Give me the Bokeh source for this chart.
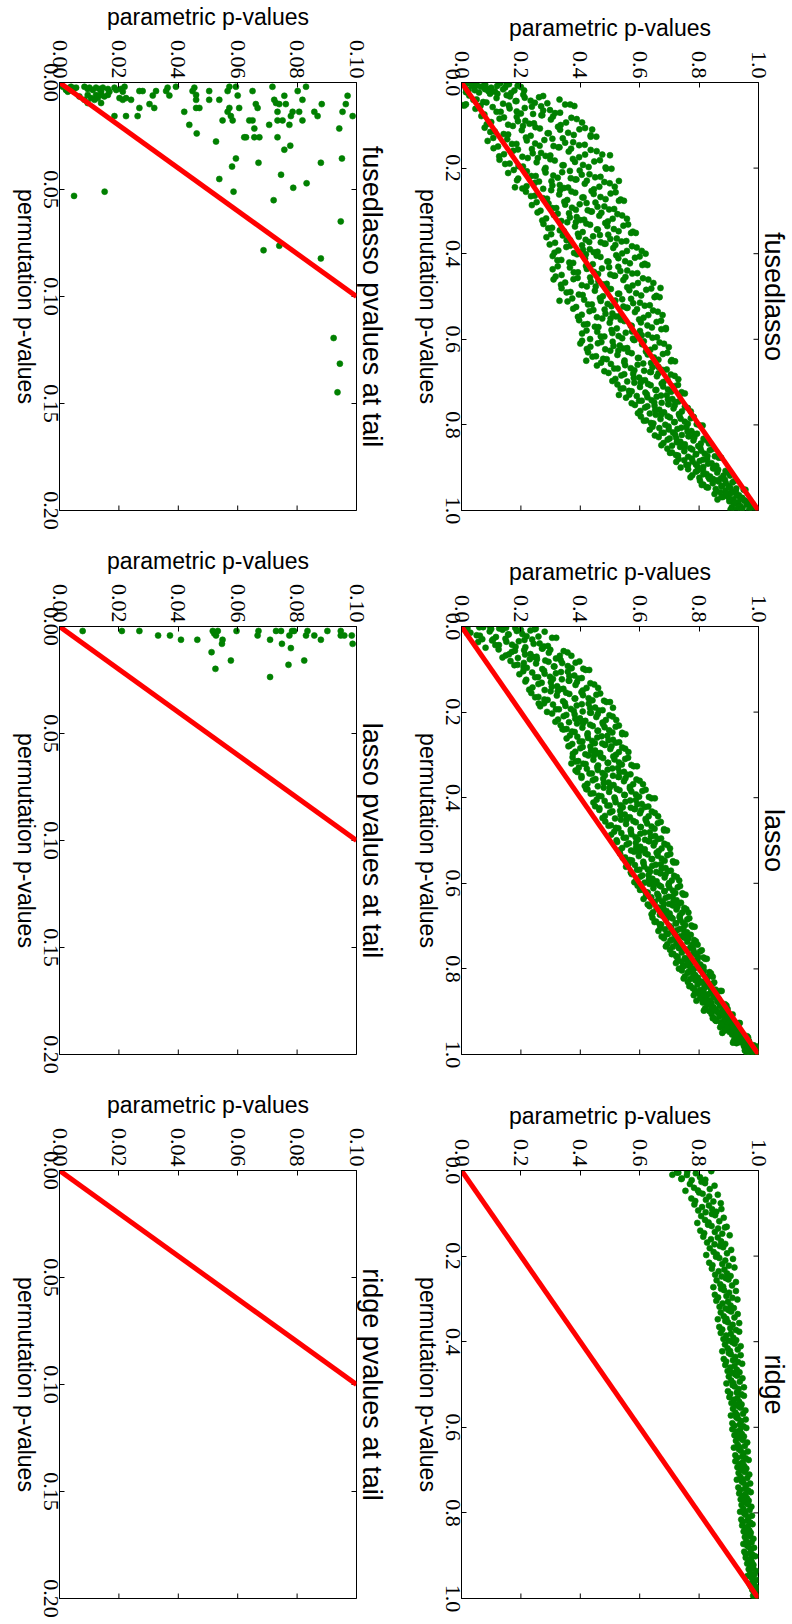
import math
from bokeh.plotting import figure
from bokeh.models import Range1d, FixedTicker, PrintfTickFormatter, GridBox
from bokeh.embed import file_html
from bokeh.resources import INLINE

# The reference is a 2x3 grid of scatter plots that was turned 90 degrees
# clockwise on the page; the grid is built upright and the page rotates it.

# ---------------- tick values ----------------
full_ticks = [0.0, 0.2, 0.4, 0.6, 0.8, 1.0]
tail_param_ticks = [0.00, 0.02, 0.04, 0.06, 0.08, 0.10]
tail_perm_ticks = [0.00, 0.05, 0.10, 0.15, 0.20]
identity_full = [0.0, 1.0]
identity_tail = [0.0, 0.1]

# ---------------- fusedlasso (full range) ----------------
fusedlasso_param = [
0.004,0.024,0.042,0.059,0.077,0.095,0.112,0.130,0.147,0.167,0.189,0.211,
0.026,0.051,0.073,0.096,0.118,0.140,0.163,0.185,0.208,0.233,0.261,0.289,
0.047,0.077,0.105,0.132,0.159,0.186,0.213,0.241,0.268,0.298,0.332,0.366,
0.067,0.100,0.128,0.157,0.186,0.215,0.244,0.272,0.301,0.334,0.370,0.406,
0.078,0.112,0.142,0.173,0.203,0.233,0.264,0.294,0.325,0.359,0.397,0.435,
0.088,0.123,0.154,0.185,0.217,0.248,0.279,0.310,0.341,0.376,0.415,0.454,
0.108,0.143,0.174,0.205,0.237,0.268,0.299,0.330,0.361,0.396,0.435,0.474,
0.128,0.162,0.192,0.223,0.253,0.283,0.314,0.344,0.375,0.409,0.447,0.485,
0.157,0.191,0.220,0.250,0.280,0.309,0.339,0.368,0.398,0.431,0.468,0.505,
0.187,0.219,0.247,0.275,0.303,0.331,0.359,0.387,0.415,0.446,0.481,0.516,
0.217,0.247,0.275,0.302,0.329,0.356,0.383,0.411,0.438,0.468,0.502,0.536,
0.237,0.266,0.293,0.319,0.346,0.372,0.398,0.425,0.451,0.481,0.514,0.547,
0.256,0.285,0.311,0.336,0.362,0.388,0.413,0.439,0.464,0.493,0.525,0.557,
0.276,0.305,0.331,0.356,0.382,0.408,0.433,0.459,0.484,0.513,0.545,0.577,
0.286,0.315,0.341,0.366,0.392,0.418,0.443,0.469,0.494,0.523,0.555,0.587,
0.297,0.326,0.353,0.379,0.406,0.432,0.458,0.485,0.511,0.541,0.574,0.607,
0.307,0.336,0.363,0.389,0.416,0.442,0.468,0.495,0.521,0.551,0.584,0.617,
0.307,0.337,0.365,0.392,0.419,0.446,0.473,0.501,0.528,0.558,0.592,0.626,
0.317,0.349,0.377,0.405,0.433,0.461,0.489,0.517,0.545,0.576,0.611,0.646,
0.337,0.367,0.395,0.422,0.449,0.476,0.503,0.531,0.558,0.588,0.622,0.656,
0.357,0.386,0.413,0.439,0.466,0.492,0.518,0.545,0.571,0.601,0.634,0.667,
0.376,0.405,0.431,0.456,0.482,0.508,0.533,0.559,0.584,0.613,0.645,0.677,
0.396,0.424,0.449,0.474,0.499,0.523,0.548,0.573,0.598,0.626,0.657,0.688,
0.406,0.433,0.457,0.481,0.505,0.529,0.553,0.577,0.601,0.628,0.658,0.688,
0.406,0.434,0.459,0.484,0.509,0.533,0.558,0.583,0.608,0.636,0.667,0.698,
0.426,0.453,0.477,0.501,0.525,0.549,0.573,0.597,0.621,0.648,0.678,0.708,
0.456,0.481,0.503,0.526,0.548,0.570,0.593,0.615,0.638,0.663,0.691,0.719,
0.495,0.518,0.538,0.558,0.578,0.598,0.618,0.638,0.658,0.680,0.705,0.730,
0.525,0.545,0.564,0.582,0.601,0.619,0.637,0.656,0.674,0.695,0.718,0.741,
0.554,0.573,0.590,0.607,0.624,0.640,0.657,0.674,0.691,0.710,0.731,0.752,
0.584,0.602,0.618,0.634,0.650,0.666,0.682,0.698,0.714,0.732,0.752,0.772,
0.604,0.622,0.638,0.654,0.670,0.686,0.702,0.718,0.734,0.752,0.772,0.792,
0.634,0.651,0.666,0.681,0.697,0.712,0.727,0.742,0.757,0.774,0.793,0.812,
0.664,0.680,0.694,0.709,0.723,0.737,0.752,0.766,0.781,0.797,0.815,0.833,
0.693,0.709,0.722,0.736,0.750,0.763,0.777,0.790,0.804,0.819,0.836,0.853,
0.723,0.738,0.750,0.763,0.776,0.789,0.802,0.814,0.827,0.842,0.858,0.874,
0.763,0.777,0.789,0.801,0.813,0.825,0.837,0.849,0.861,0.874,0.889,0.904,
0.803,0.814,0.825,0.835,0.846,0.856,0.866,0.877,0.887,0.899,0.912,0.925,
0.852,0.862,0.871,0.880,0.889,0.897,0.906,0.915,0.924,0.934,0.945,0.956,
0.902,0.910,0.917,0.924,0.932,0.939,0.946,0.953,0.960,0.968,0.977,0.986,
0.330,0.380,0.440,0.500,0.530,0.180,0.620,0.310,0.670,0.330,0.400,0.420,0.530,
0.003,0.010,0.020,0.035,0.050,0.065,0.080,0.100,0.015,0.045,0.090,0.120,0.140,0.160,0.005,0.015,0.010,
]
fusedlasso_perm = [
0.0035,0.0175,0.0095,0.0235,0.0055,0.0145,0.0205,0.0015,0.0115,0.0245,0.0075,0.0185,
0.0305,0.0395,0.0455,0.0265,0.0365,0.0495,0.0325,0.0435,0.0285,0.0425,0.0345,0.0485,
0.0615,0.0745,0.0575,0.0685,0.0535,0.0675,0.0595,0.0735,0.0555,0.0645,0.0705,0.0515,
0.0785,0.0925,0.0845,0.0985,0.0805,0.0895,0.0955,0.0765,0.0865,0.0995,0.0825,0.0935,
0.1055,0.1145,0.1205,0.1015,0.1115,0.1245,0.1075,0.1185,0.1035,0.1175,0.1095,0.1235,
0.1365,0.1495,0.1325,0.1435,0.1285,0.1425,0.1345,0.1485,0.1305,0.1395,0.1455,0.1265,
0.1535,0.1675,0.1595,0.1735,0.1555,0.1645,0.1705,0.1515,0.1615,0.1745,0.1575,0.1685,
0.1805,0.1895,0.1955,0.1765,0.1865,0.1995,0.1825,0.1935,0.1785,0.1925,0.1845,0.1985,
0.2115,0.2245,0.2075,0.2185,0.2035,0.2175,0.2095,0.2235,0.2055,0.2145,0.2205,0.2015,
0.2285,0.2425,0.2345,0.2485,0.2305,0.2395,0.2455,0.2265,0.2365,0.2495,0.2325,0.2435,
0.2555,0.2645,0.2705,0.2515,0.2615,0.2745,0.2575,0.2685,0.2535,0.2675,0.2595,0.2735,
0.2865,0.2995,0.2825,0.2935,0.2785,0.2925,0.2845,0.2985,0.2805,0.2895,0.2955,0.2765,
0.3035,0.3175,0.3095,0.3235,0.3055,0.3145,0.3205,0.3015,0.3115,0.3245,0.3075,0.3185,
0.3305,0.3395,0.3455,0.3265,0.3365,0.3495,0.3325,0.3435,0.3285,0.3425,0.3345,0.3485,
0.3615,0.3745,0.3575,0.3685,0.3535,0.3675,0.3595,0.3735,0.3555,0.3645,0.3705,0.3515,
0.3785,0.3925,0.3845,0.3985,0.3805,0.3895,0.3955,0.3765,0.3865,0.3995,0.3825,0.3935,
0.4055,0.4145,0.4205,0.4015,0.4115,0.4245,0.4075,0.4185,0.4035,0.4175,0.4095,0.4235,
0.4365,0.4495,0.4325,0.4435,0.4285,0.4425,0.4345,0.4485,0.4305,0.4395,0.4455,0.4265,
0.4535,0.4675,0.4595,0.4735,0.4555,0.4645,0.4705,0.4515,0.4615,0.4745,0.4575,0.4685,
0.4805,0.4895,0.4955,0.4765,0.4865,0.4995,0.4825,0.4935,0.4785,0.4925,0.4845,0.4985,
0.5115,0.5245,0.5075,0.5185,0.5035,0.5175,0.5095,0.5235,0.5055,0.5145,0.5205,0.5015,
0.5285,0.5425,0.5345,0.5485,0.5305,0.5395,0.5455,0.5265,0.5365,0.5495,0.5325,0.5435,
0.5555,0.5645,0.5705,0.5515,0.5615,0.5745,0.5575,0.5685,0.5535,0.5675,0.5595,0.5735,
0.5865,0.5995,0.5825,0.5935,0.5785,0.5925,0.5845,0.5985,0.5805,0.5895,0.5955,0.5765,
0.6035,0.6175,0.6095,0.6235,0.6055,0.6145,0.6205,0.6015,0.6115,0.6245,0.6075,0.6185,
0.6305,0.6395,0.6455,0.6265,0.6365,0.6495,0.6325,0.6435,0.6285,0.6425,0.6345,0.6485,
0.6615,0.6745,0.6575,0.6685,0.6535,0.6675,0.6595,0.6735,0.6555,0.6645,0.6705,0.6515,
0.6785,0.6925,0.6845,0.6985,0.6805,0.6895,0.6955,0.6765,0.6865,0.6995,0.6825,0.6935,
0.7055,0.7145,0.7205,0.7015,0.7115,0.7245,0.7075,0.7185,0.7035,0.7175,0.7095,0.7235,
0.7365,0.7495,0.7325,0.7435,0.7285,0.7425,0.7345,0.7485,0.7305,0.7395,0.7455,0.7265,
0.7535,0.7675,0.7595,0.7735,0.7555,0.7645,0.7705,0.7515,0.7615,0.7745,0.7575,0.7685,
0.7805,0.7895,0.7955,0.7765,0.7865,0.7995,0.7825,0.7935,0.7785,0.7925,0.7845,0.7985,
0.8115,0.8245,0.8075,0.8185,0.8035,0.8175,0.8095,0.8235,0.8055,0.8145,0.8205,0.8015,
0.8285,0.8425,0.8345,0.8485,0.8305,0.8395,0.8455,0.8265,0.8365,0.8495,0.8325,0.8435,
0.8555,0.8645,0.8705,0.8515,0.8615,0.8745,0.8575,0.8685,0.8535,0.8675,0.8595,0.8735,
0.8865,0.8995,0.8825,0.8935,0.8785,0.8925,0.8845,0.8985,0.8805,0.8895,0.8955,0.8765,
0.9035,0.9175,0.9095,0.9235,0.9055,0.9145,0.9205,0.9015,0.9115,0.9245,0.9075,0.9185,
0.9305,0.9395,0.9455,0.9265,0.9365,0.9495,0.9325,0.9435,0.9285,0.9425,0.9345,0.9485,
0.9615,0.9745,0.9575,0.9685,0.9535,0.9675,0.9595,0.9735,0.9555,0.9645,0.9705,0.9515,
0.9785,0.9925,0.9845,0.9985,0.9805,0.9895,0.9955,0.9765,0.9865,0.9995,0.9825,0.9935,
0.040,0.055,0.110,0.170,0.230,0.245,0.400,0.460,0.480,0.510,0.610,0.650,0.730,
0.001,0.004,0.002,0.007,0.003,0.010,0.005,0.012,0.015,0.018,0.020,0.008,0.016,0.004,0.053,0.051,0.054,
]
fusedlasso_param_b = [
0.015,0.051,0.079,0.103,0.128,0.152,0.178,0.200,
0.040,0.084,0.121,0.152,0.182,0.213,0.247,0.275,
0.064,0.118,0.162,0.200,0.237,0.275,0.315,0.349,
0.085,0.143,0.190,0.229,0.269,0.308,0.352,0.388,
0.097,0.157,0.207,0.249,0.290,0.332,0.378,0.416,
0.107,0.170,0.220,0.263,0.306,0.349,0.396,0.435,
0.127,0.190,0.240,0.283,0.326,0.369,0.416,0.455,
0.147,0.207,0.257,0.299,0.340,0.382,0.428,0.466,
0.176,0.235,0.283,0.324,0.365,0.405,0.450,0.487,
0.205,0.261,0.306,0.345,0.383,0.422,0.464,0.499,
0.234,0.288,0.332,0.370,0.407,0.445,0.485,0.519,
0.253,0.306,0.349,0.385,0.421,0.458,0.497,0.530,
0.272,0.324,0.365,0.400,0.436,0.471,0.509,0.541,
0.292,0.344,0.385,0.420,0.456,0.491,0.529,0.561,
0.302,0.354,0.395,0.430,0.466,0.501,0.539,0.571,
0.313,0.366,0.409,0.445,0.481,0.518,0.557,0.590,
0.323,0.376,0.419,0.455,0.491,0.528,0.567,0.600,
0.324,0.378,0.422,0.460,0.497,0.535,0.575,0.609,
0.335,0.391,0.436,0.475,0.513,0.552,0.594,0.629,
0.354,0.408,0.452,0.490,0.527,0.565,0.605,0.639,
0.373,0.426,0.469,0.505,0.541,0.578,0.617,0.650,
0.392,0.444,0.485,0.520,0.556,0.591,0.629,0.661,
0.412,0.461,0.502,0.536,0.570,0.604,0.641,0.672,
0.421,0.469,0.508,0.541,0.574,0.607,0.643,0.673,
0.422,0.471,0.512,0.546,0.580,0.614,0.651,0.682,
0.441,0.489,0.528,0.561,0.594,0.627,0.663,0.693,
0.470,0.514,0.551,0.582,0.612,0.643,0.677,0.705,
0.508,0.548,0.580,0.608,0.635,0.663,0.693,0.718,
0.536,0.573,0.603,0.628,0.653,0.679,0.706,0.729,
0.565,0.598,0.626,0.649,0.672,0.695,0.720,0.741,
0.594,0.626,0.652,0.674,0.696,0.718,0.742,0.762,
0.614,0.646,0.672,0.694,0.716,0.738,0.762,0.782,
0.643,0.674,0.698,0.719,0.740,0.761,0.784,0.803,
0.673,0.701,0.725,0.745,0.764,0.784,0.806,0.824,
0.702,0.729,0.751,0.770,0.789,0.807,0.828,0.845,
0.731,0.757,0.778,0.795,0.813,0.830,0.850,0.866,
0.771,0.795,0.814,0.831,0.847,0.864,0.882,0.897,
0.809,0.830,0.847,0.861,0.875,0.890,0.905,0.918,
0.858,0.875,0.890,0.902,0.914,0.926,0.939,0.950,
0.906,0.921,0.932,0.942,0.952,0.962,0.973,0.982,
]
fusedlasso_perm_b = [
0.0225,0.0065,0.0155,0.0215,0.0015,0.0045,0.0185,0.0105,
0.0405,0.0465,0.0265,0.0295,0.0435,0.0355,0.0475,0.0315,
0.0545,0.0685,0.0605,0.0725,0.0565,0.0655,0.0715,0.0515,
0.0975,0.0815,0.0905,0.0965,0.0765,0.0795,0.0935,0.0855,
0.1155,0.1215,0.1015,0.1045,0.1185,0.1105,0.1225,0.1065,
0.1295,0.1435,0.1355,0.1475,0.1315,0.1405,0.1465,0.1265,
0.1725,0.1565,0.1655,0.1715,0.1515,0.1545,0.1685,0.1605,
0.1905,0.1965,0.1765,0.1795,0.1935,0.1855,0.1975,0.1815,
0.2045,0.2185,0.2105,0.2225,0.2065,0.2155,0.2215,0.2015,
0.2475,0.2315,0.2405,0.2465,0.2265,0.2295,0.2435,0.2355,
0.2655,0.2715,0.2515,0.2545,0.2685,0.2605,0.2725,0.2565,
0.2795,0.2935,0.2855,0.2975,0.2815,0.2905,0.2965,0.2765,
0.3225,0.3065,0.3155,0.3215,0.3015,0.3045,0.3185,0.3105,
0.3405,0.3465,0.3265,0.3295,0.3435,0.3355,0.3475,0.3315,
0.3545,0.3685,0.3605,0.3725,0.3565,0.3655,0.3715,0.3515,
0.3975,0.3815,0.3905,0.3965,0.3765,0.3795,0.3935,0.3855,
0.4155,0.4215,0.4015,0.4045,0.4185,0.4105,0.4225,0.4065,
0.4295,0.4435,0.4355,0.4475,0.4315,0.4405,0.4465,0.4265,
0.4725,0.4565,0.4655,0.4715,0.4515,0.4545,0.4685,0.4605,
0.4905,0.4965,0.4765,0.4795,0.4935,0.4855,0.4975,0.4815,
0.5045,0.5185,0.5105,0.5225,0.5065,0.5155,0.5215,0.5015,
0.5475,0.5315,0.5405,0.5465,0.5265,0.5295,0.5435,0.5355,
0.5655,0.5715,0.5515,0.5545,0.5685,0.5605,0.5725,0.5565,
0.5795,0.5935,0.5855,0.5975,0.5815,0.5905,0.5965,0.5765,
0.6225,0.6065,0.6155,0.6215,0.6015,0.6045,0.6185,0.6105,
0.6405,0.6465,0.6265,0.6295,0.6435,0.6355,0.6475,0.6315,
0.6545,0.6685,0.6605,0.6725,0.6565,0.6655,0.6715,0.6515,
0.6975,0.6815,0.6905,0.6965,0.6765,0.6795,0.6935,0.6855,
0.7155,0.7215,0.7015,0.7045,0.7185,0.7105,0.7225,0.7065,
0.7295,0.7435,0.7355,0.7475,0.7315,0.7405,0.7465,0.7265,
0.7725,0.7565,0.7655,0.7715,0.7515,0.7545,0.7685,0.7605,
0.7905,0.7965,0.7765,0.7795,0.7935,0.7855,0.7975,0.7815,
0.8045,0.8185,0.8105,0.8225,0.8065,0.8155,0.8215,0.8015,
0.8475,0.8315,0.8405,0.8465,0.8265,0.8295,0.8435,0.8355,
0.8655,0.8715,0.8515,0.8545,0.8685,0.8605,0.8725,0.8565,
0.8795,0.8935,0.8855,0.8975,0.8815,0.8905,0.8965,0.8765,
0.9225,0.9065,0.9155,0.9215,0.9015,0.9045,0.9185,0.9105,
0.9405,0.9465,0.9265,0.9295,0.9435,0.9355,0.9475,0.9315,
0.9545,0.9685,0.9605,0.9725,0.9565,0.9655,0.9715,0.9515,
0.9975,0.9815,0.9905,0.9965,0.9765,0.9795,0.9935,0.9855,
]

# ---------------- lasso (full range) ----------------
lasso_param = [
0.005,0.030,0.051,0.073,0.095,0.116,0.138,0.159,0.181,0.205,0.232,0.259,
0.056,0.081,0.103,0.126,0.148,0.170,0.193,0.215,0.238,0.263,0.291,0.319,
0.125,0.149,0.169,0.190,0.211,0.232,0.253,0.273,0.294,0.318,0.344,0.370,
0.165,0.189,0.209,0.230,0.251,0.272,0.293,0.313,0.334,0.358,0.384,0.410,
0.195,0.218,0.238,0.258,0.278,0.298,0.318,0.338,0.358,0.380,0.405,0.430,
0.215,0.239,0.259,0.280,0.301,0.322,0.343,0.363,0.384,0.408,0.434,0.460,
0.235,0.259,0.279,0.300,0.321,0.342,0.363,0.383,0.404,0.428,0.454,0.480,
0.265,0.288,0.308,0.328,0.348,0.368,0.388,0.408,0.428,0.450,0.475,0.500,
0.305,0.325,0.344,0.362,0.381,0.399,0.417,0.436,0.454,0.475,0.498,0.521,
0.334,0.354,0.372,0.389,0.407,0.425,0.442,0.460,0.477,0.497,0.519,0.541,
0.354,0.373,0.390,0.407,0.424,0.440,0.457,0.474,0.491,0.510,0.531,0.552,
0.364,0.383,0.400,0.417,0.434,0.450,0.467,0.484,0.501,0.520,0.541,0.562,
0.374,0.393,0.410,0.427,0.444,0.460,0.477,0.494,0.511,0.530,0.551,0.572,
0.384,0.404,0.422,0.439,0.457,0.475,0.492,0.510,0.527,0.547,0.569,0.591,
0.404,0.424,0.442,0.459,0.477,0.495,0.512,0.530,0.547,0.567,0.589,0.611,
0.424,0.444,0.462,0.479,0.497,0.515,0.532,0.550,0.567,0.587,0.609,0.631,
0.444,0.464,0.482,0.499,0.517,0.535,0.552,0.570,0.587,0.607,0.629,0.651,
0.464,0.483,0.500,0.517,0.534,0.550,0.567,0.584,0.601,0.620,0.641,0.662,
0.484,0.503,0.520,0.537,0.554,0.570,0.587,0.604,0.621,0.640,0.661,0.682,
0.504,0.522,0.538,0.554,0.570,0.586,0.602,0.618,0.634,0.652,0.672,0.692,
0.524,0.541,0.556,0.571,0.587,0.602,0.617,0.632,0.647,0.664,0.683,0.702,
0.534,0.551,0.566,0.581,0.597,0.612,0.627,0.642,0.657,0.674,0.693,0.712,
0.554,0.570,0.584,0.599,0.613,0.627,0.642,0.656,0.671,0.687,0.705,0.723,
0.573,0.589,0.602,0.616,0.630,0.643,0.657,0.670,0.684,0.699,0.716,0.733,
0.593,0.608,0.620,0.633,0.646,0.659,0.672,0.684,0.697,0.712,0.728,0.744,
0.613,0.627,0.639,0.651,0.663,0.675,0.687,0.699,0.711,0.724,0.739,0.754,
0.633,0.645,0.657,0.668,0.679,0.690,0.701,0.713,0.724,0.736,0.750,0.764,
0.643,0.655,0.667,0.678,0.689,0.700,0.711,0.723,0.734,0.746,0.760,0.774,
0.663,0.674,0.685,0.695,0.706,0.716,0.726,0.737,0.747,0.759,0.772,0.785,
0.682,0.693,0.703,0.712,0.722,0.732,0.741,0.751,0.760,0.771,0.783,0.795,
0.702,0.713,0.723,0.732,0.742,0.752,0.761,0.771,0.780,0.791,0.803,0.815,
0.722,0.732,0.741,0.750,0.759,0.767,0.776,0.785,0.794,0.804,0.815,0.826,
0.742,0.752,0.761,0.770,0.779,0.787,0.796,0.805,0.814,0.824,0.835,0.846,
0.762,0.771,0.779,0.787,0.795,0.803,0.811,0.819,0.827,0.836,0.846,0.856,
0.782,0.791,0.799,0.807,0.815,0.823,0.831,0.839,0.847,0.856,0.866,0.876,
0.812,0.820,0.827,0.834,0.842,0.849,0.856,0.863,0.870,0.878,0.887,0.896,
0.842,0.849,0.855,0.862,0.868,0.874,0.881,0.887,0.894,0.901,0.909,0.917,
0.871,0.878,0.883,0.889,0.895,0.900,0.906,0.911,0.917,0.923,0.930,0.937,
0.911,0.917,0.921,0.926,0.931,0.936,0.941,0.945,0.950,0.956,0.962,0.968,
0.951,0.956,0.960,0.964,0.968,0.972,0.976,0.980,0.984,0.988,0.993,0.998,
0.107,0.160,0.210,0.260,0.340,0.360,0.370,0.390,0.420,0.450,0.510,
0.003,0.020,0.060,0.100,0.150,0.200,0.250,0.280,
]
lasso_perm = [
0.0055,0.0145,0.0205,0.0015,0.0115,0.0245,0.0075,0.0185,0.0035,0.0175,0.0095,0.0235,
0.0365,0.0495,0.0325,0.0435,0.0285,0.0425,0.0345,0.0485,0.0305,0.0395,0.0455,0.0265,
0.0535,0.0675,0.0595,0.0735,0.0555,0.0645,0.0705,0.0515,0.0615,0.0745,0.0575,0.0685,
0.0805,0.0895,0.0955,0.0765,0.0865,0.0995,0.0825,0.0935,0.0785,0.0925,0.0845,0.0985,
0.1115,0.1245,0.1075,0.1185,0.1035,0.1175,0.1095,0.1235,0.1055,0.1145,0.1205,0.1015,
0.1285,0.1425,0.1345,0.1485,0.1305,0.1395,0.1455,0.1265,0.1365,0.1495,0.1325,0.1435,
0.1555,0.1645,0.1705,0.1515,0.1615,0.1745,0.1575,0.1685,0.1535,0.1675,0.1595,0.1735,
0.1865,0.1995,0.1825,0.1935,0.1785,0.1925,0.1845,0.1985,0.1805,0.1895,0.1955,0.1765,
0.2035,0.2175,0.2095,0.2235,0.2055,0.2145,0.2205,0.2015,0.2115,0.2245,0.2075,0.2185,
0.2305,0.2395,0.2455,0.2265,0.2365,0.2495,0.2325,0.2435,0.2285,0.2425,0.2345,0.2485,
0.2615,0.2745,0.2575,0.2685,0.2535,0.2675,0.2595,0.2735,0.2555,0.2645,0.2705,0.2515,
0.2785,0.2925,0.2845,0.2985,0.2805,0.2895,0.2955,0.2765,0.2865,0.2995,0.2825,0.2935,
0.3055,0.3145,0.3205,0.3015,0.3115,0.3245,0.3075,0.3185,0.3035,0.3175,0.3095,0.3235,
0.3365,0.3495,0.3325,0.3435,0.3285,0.3425,0.3345,0.3485,0.3305,0.3395,0.3455,0.3265,
0.3535,0.3675,0.3595,0.3735,0.3555,0.3645,0.3705,0.3515,0.3615,0.3745,0.3575,0.3685,
0.3805,0.3895,0.3955,0.3765,0.3865,0.3995,0.3825,0.3935,0.3785,0.3925,0.3845,0.3985,
0.4115,0.4245,0.4075,0.4185,0.4035,0.4175,0.4095,0.4235,0.4055,0.4145,0.4205,0.4015,
0.4285,0.4425,0.4345,0.4485,0.4305,0.4395,0.4455,0.4265,0.4365,0.4495,0.4325,0.4435,
0.4555,0.4645,0.4705,0.4515,0.4615,0.4745,0.4575,0.4685,0.4535,0.4675,0.4595,0.4735,
0.4865,0.4995,0.4825,0.4935,0.4785,0.4925,0.4845,0.4985,0.4805,0.4895,0.4955,0.4765,
0.5035,0.5175,0.5095,0.5235,0.5055,0.5145,0.5205,0.5015,0.5115,0.5245,0.5075,0.5185,
0.5305,0.5395,0.5455,0.5265,0.5365,0.5495,0.5325,0.5435,0.5285,0.5425,0.5345,0.5485,
0.5615,0.5745,0.5575,0.5685,0.5535,0.5675,0.5595,0.5735,0.5555,0.5645,0.5705,0.5515,
0.5785,0.5925,0.5845,0.5985,0.5805,0.5895,0.5955,0.5765,0.5865,0.5995,0.5825,0.5935,
0.6055,0.6145,0.6205,0.6015,0.6115,0.6245,0.6075,0.6185,0.6035,0.6175,0.6095,0.6235,
0.6365,0.6495,0.6325,0.6435,0.6285,0.6425,0.6345,0.6485,0.6305,0.6395,0.6455,0.6265,
0.6535,0.6675,0.6595,0.6735,0.6555,0.6645,0.6705,0.6515,0.6615,0.6745,0.6575,0.6685,
0.6805,0.6895,0.6955,0.6765,0.6865,0.6995,0.6825,0.6935,0.6785,0.6925,0.6845,0.6985,
0.7115,0.7245,0.7075,0.7185,0.7035,0.7175,0.7095,0.7235,0.7055,0.7145,0.7205,0.7015,
0.7285,0.7425,0.7345,0.7485,0.7305,0.7395,0.7455,0.7265,0.7365,0.7495,0.7325,0.7435,
0.7555,0.7645,0.7705,0.7515,0.7615,0.7745,0.7575,0.7685,0.7535,0.7675,0.7595,0.7735,
0.7865,0.7995,0.7825,0.7935,0.7785,0.7925,0.7845,0.7985,0.7805,0.7895,0.7955,0.7765,
0.8035,0.8175,0.8095,0.8235,0.8055,0.8145,0.8205,0.8015,0.8115,0.8245,0.8075,0.8185,
0.8305,0.8395,0.8455,0.8265,0.8365,0.8495,0.8325,0.8435,0.8285,0.8425,0.8345,0.8485,
0.8615,0.8745,0.8575,0.8685,0.8535,0.8675,0.8595,0.8735,0.8555,0.8645,0.8705,0.8515,
0.8785,0.8925,0.8845,0.8985,0.8805,0.8895,0.8955,0.8765,0.8865,0.8995,0.8825,0.8935,
0.9055,0.9145,0.9205,0.9015,0.9115,0.9245,0.9075,0.9185,0.9035,0.9175,0.9095,0.9235,
0.9365,0.9495,0.9325,0.9435,0.9285,0.9425,0.9345,0.9485,0.9305,0.9395,0.9455,0.9265,
0.9535,0.9675,0.9595,0.9735,0.9555,0.9645,0.9705,0.9515,0.9615,0.9745,0.9575,0.9685,
0.9805,0.9895,0.9955,0.9765,0.9865,0.9995,0.9825,0.9935,0.9785,0.9925,0.9845,0.9985,
0.030,0.065,0.085,0.180,0.240,0.280,0.320,0.340,0.380,0.420,0.190,
0.001,0.004,0.002,0.006,0.003,0.008,0.005,0.012,
]
lasso_param_b = [
0.019,0.062,0.097,0.127,0.157,0.186,0.219,0.246,
0.070,0.114,0.151,0.182,0.212,0.243,0.277,0.305,
0.138,0.180,0.214,0.242,0.271,0.299,0.331,0.357,
0.178,0.220,0.254,0.282,0.311,0.339,0.371,0.397,
0.208,0.248,0.280,0.308,0.335,0.363,0.393,0.418,
0.228,0.270,0.304,0.332,0.361,0.389,0.421,0.447,
0.248,0.290,0.324,0.352,0.381,0.409,0.441,0.467,
0.278,0.318,0.350,0.378,0.405,0.433,0.463,0.488,
0.316,0.353,0.383,0.408,0.433,0.459,0.486,0.509,
0.345,0.381,0.409,0.433,0.458,0.482,0.508,0.530,
0.365,0.398,0.426,0.449,0.472,0.495,0.520,0.541,
0.375,0.408,0.436,0.459,0.482,0.505,0.530,0.551,
0.385,0.418,0.446,0.469,0.492,0.515,0.540,0.561,
0.395,0.431,0.459,0.483,0.508,0.532,0.558,0.580,
0.415,0.451,0.479,0.503,0.528,0.552,0.578,0.600,
0.435,0.471,0.499,0.523,0.548,0.572,0.598,0.620,
0.455,0.491,0.519,0.543,0.568,0.592,0.618,0.640,
0.475,0.508,0.536,0.559,0.582,0.605,0.630,0.651,
0.495,0.528,0.556,0.579,0.602,0.625,0.650,0.671,
0.514,0.546,0.572,0.594,0.616,0.638,0.662,0.682,
0.533,0.564,0.588,0.609,0.630,0.651,0.674,0.693,
0.543,0.574,0.598,0.619,0.640,0.661,0.684,0.703,
0.563,0.591,0.615,0.635,0.654,0.674,0.696,0.714,
0.582,0.609,0.631,0.650,0.669,0.687,0.708,0.725,
0.601,0.627,0.648,0.665,0.683,0.700,0.720,0.736,
0.621,0.645,0.664,0.681,0.697,0.714,0.732,0.747,
0.640,0.662,0.680,0.696,0.711,0.727,0.743,0.757,
0.650,0.672,0.690,0.706,0.721,0.737,0.753,0.767,
0.669,0.690,0.707,0.721,0.735,0.750,0.765,0.778,
0.688,0.708,0.723,0.736,0.750,0.763,0.777,0.789,
0.708,0.728,0.743,0.756,0.770,0.783,0.797,0.809,
0.728,0.745,0.760,0.772,0.784,0.796,0.809,0.820,
0.748,0.765,0.780,0.792,0.804,0.816,0.829,0.840,
0.767,0.783,0.796,0.807,0.818,0.829,0.841,0.851,
0.787,0.803,0.816,0.827,0.838,0.849,0.861,0.871,
0.816,0.831,0.842,0.852,0.862,0.872,0.883,0.892,
0.846,0.858,0.869,0.878,0.886,0.895,0.905,0.913,
0.875,0.886,0.895,0.903,0.911,0.918,0.927,0.934,
0.914,0.924,0.932,0.938,0.945,0.951,0.959,0.965,
0.954,0.962,0.968,0.974,0.979,0.985,0.991,0.996,
]
lasso_perm_b = [
0.0155,0.0215,0.0015,0.0045,0.0185,0.0105,0.0225,0.0065,
0.0295,0.0435,0.0355,0.0475,0.0315,0.0405,0.0465,0.0265,
0.0725,0.0565,0.0655,0.0715,0.0515,0.0545,0.0685,0.0605,
0.0905,0.0965,0.0765,0.0795,0.0935,0.0855,0.0975,0.0815,
0.1045,0.1185,0.1105,0.1225,0.1065,0.1155,0.1215,0.1015,
0.1475,0.1315,0.1405,0.1465,0.1265,0.1295,0.1435,0.1355,
0.1655,0.1715,0.1515,0.1545,0.1685,0.1605,0.1725,0.1565,
0.1795,0.1935,0.1855,0.1975,0.1815,0.1905,0.1965,0.1765,
0.2225,0.2065,0.2155,0.2215,0.2015,0.2045,0.2185,0.2105,
0.2405,0.2465,0.2265,0.2295,0.2435,0.2355,0.2475,0.2315,
0.2545,0.2685,0.2605,0.2725,0.2565,0.2655,0.2715,0.2515,
0.2975,0.2815,0.2905,0.2965,0.2765,0.2795,0.2935,0.2855,
0.3155,0.3215,0.3015,0.3045,0.3185,0.3105,0.3225,0.3065,
0.3295,0.3435,0.3355,0.3475,0.3315,0.3405,0.3465,0.3265,
0.3725,0.3565,0.3655,0.3715,0.3515,0.3545,0.3685,0.3605,
0.3905,0.3965,0.3765,0.3795,0.3935,0.3855,0.3975,0.3815,
0.4045,0.4185,0.4105,0.4225,0.4065,0.4155,0.4215,0.4015,
0.4475,0.4315,0.4405,0.4465,0.4265,0.4295,0.4435,0.4355,
0.4655,0.4715,0.4515,0.4545,0.4685,0.4605,0.4725,0.4565,
0.4795,0.4935,0.4855,0.4975,0.4815,0.4905,0.4965,0.4765,
0.5225,0.5065,0.5155,0.5215,0.5015,0.5045,0.5185,0.5105,
0.5405,0.5465,0.5265,0.5295,0.5435,0.5355,0.5475,0.5315,
0.5545,0.5685,0.5605,0.5725,0.5565,0.5655,0.5715,0.5515,
0.5975,0.5815,0.5905,0.5965,0.5765,0.5795,0.5935,0.5855,
0.6155,0.6215,0.6015,0.6045,0.6185,0.6105,0.6225,0.6065,
0.6295,0.6435,0.6355,0.6475,0.6315,0.6405,0.6465,0.6265,
0.6725,0.6565,0.6655,0.6715,0.6515,0.6545,0.6685,0.6605,
0.6905,0.6965,0.6765,0.6795,0.6935,0.6855,0.6975,0.6815,
0.7045,0.7185,0.7105,0.7225,0.7065,0.7155,0.7215,0.7015,
0.7475,0.7315,0.7405,0.7465,0.7265,0.7295,0.7435,0.7355,
0.7655,0.7715,0.7515,0.7545,0.7685,0.7605,0.7725,0.7565,
0.7795,0.7935,0.7855,0.7975,0.7815,0.7905,0.7965,0.7765,
0.8225,0.8065,0.8155,0.8215,0.8015,0.8045,0.8185,0.8105,
0.8405,0.8465,0.8265,0.8295,0.8435,0.8355,0.8475,0.8315,
0.8545,0.8685,0.8605,0.8725,0.8565,0.8655,0.8715,0.8515,
0.8975,0.8815,0.8905,0.8965,0.8765,0.8795,0.8935,0.8855,
0.9155,0.9215,0.9015,0.9045,0.9185,0.9105,0.9225,0.9065,
0.9295,0.9435,0.9355,0.9475,0.9315,0.9405,0.9465,0.9265,
0.9725,0.9565,0.9655,0.9715,0.9515,0.9545,0.9685,0.9605,
0.9905,0.9965,0.9765,0.9795,0.9935,0.9855,0.9975,0.9815,
]

# ---------------- ridge (full range) ----------------
ridge_param = [
0.725,0.742,0.759,0.775,0.789,0.803,0.821,0.841,
0.754,0.769,0.783,0.796,0.808,0.820,0.836,0.852,
0.774,0.787,0.800,0.812,0.823,0.834,0.848,0.863,
0.784,0.797,0.810,0.822,0.833,0.844,0.858,0.873,
0.794,0.807,0.820,0.832,0.843,0.854,0.868,0.883,
0.804,0.817,0.830,0.842,0.853,0.864,0.878,0.893,
0.814,0.827,0.840,0.852,0.863,0.874,0.888,0.903,
0.824,0.836,0.849,0.860,0.870,0.881,0.894,0.908,
0.834,0.845,0.857,0.868,0.878,0.888,0.900,0.914,
0.843,0.854,0.866,0.876,0.885,0.894,0.906,0.919,
0.848,0.859,0.871,0.881,0.890,0.899,0.911,0.924,
0.853,0.864,0.874,0.884,0.892,0.901,0.912,0.924,
0.858,0.869,0.879,0.889,0.897,0.906,0.917,0.929,
0.863,0.873,0.883,0.892,0.900,0.908,0.919,0.930,
0.868,0.878,0.888,0.897,0.905,0.913,0.924,0.935,
0.873,0.882,0.891,0.899,0.907,0.915,0.925,0.935,
0.878,0.887,0.896,0.904,0.912,0.920,0.930,0.940,
0.883,0.891,0.900,0.907,0.914,0.922,0.931,0.940,
0.888,0.896,0.905,0.912,0.919,0.927,0.936,0.945,
0.892,0.900,0.908,0.915,0.922,0.928,0.937,0.946,
0.897,0.905,0.913,0.920,0.927,0.933,0.942,0.951,
0.902,0.909,0.917,0.923,0.929,0.935,0.943,0.951,
0.907,0.914,0.922,0.928,0.934,0.940,0.948,0.956,
0.912,0.919,0.925,0.931,0.937,0.942,0.949,0.957,
0.912,0.919,0.926,0.932,0.938,0.944,0.951,0.959,
0.917,0.924,0.930,0.936,0.942,0.947,0.954,0.962,
0.922,0.928,0.934,0.940,0.945,0.950,0.957,0.964,
0.922,0.929,0.935,0.941,0.947,0.952,0.959,0.967,
0.927,0.933,0.939,0.945,0.950,0.955,0.962,0.969,
0.932,0.938,0.944,0.949,0.954,0.959,0.965,0.972,
0.935,0.940,0.946,0.951,0.956,0.961,0.967,0.974,
0.938,0.943,0.949,0.954,0.959,0.964,0.970,0.976,
0.942,0.947,0.952,0.957,0.962,0.966,0.972,0.978,
0.945,0.950,0.955,0.960,0.964,0.969,0.974,0.980,
0.949,0.954,0.959,0.963,0.968,0.972,0.977,0.983,
0.952,0.957,0.962,0.967,0.971,0.975,0.980,0.985,
0.957,0.962,0.967,0.971,0.975,0.978,0.983,0.989,
0.963,0.967,0.972,0.975,0.979,0.982,0.987,0.992,
0.970,0.974,0.977,0.981,0.984,0.987,0.991,0.995,
0.979,0.982,0.985,0.987,0.990,0.992,0.995,0.998,
0.710,0.730,0.740,0.760,0.887,0.875,
]
ridge_perm = [
0.0045,0.0185,0.0105,0.0225,0.0065,0.0155,0.0215,0.0015,
0.0475,0.0315,0.0405,0.0465,0.0265,0.0295,0.0435,0.0355,
0.0655,0.0715,0.0515,0.0545,0.0685,0.0605,0.0725,0.0565,
0.0795,0.0935,0.0855,0.0975,0.0815,0.0905,0.0965,0.0765,
0.1225,0.1065,0.1155,0.1215,0.1015,0.1045,0.1185,0.1105,
0.1405,0.1465,0.1265,0.1295,0.1435,0.1355,0.1475,0.1315,
0.1545,0.1685,0.1605,0.1725,0.1565,0.1655,0.1715,0.1515,
0.1975,0.1815,0.1905,0.1965,0.1765,0.1795,0.1935,0.1855,
0.2155,0.2215,0.2015,0.2045,0.2185,0.2105,0.2225,0.2065,
0.2295,0.2435,0.2355,0.2475,0.2315,0.2405,0.2465,0.2265,
0.2725,0.2565,0.2655,0.2715,0.2515,0.2545,0.2685,0.2605,
0.2905,0.2965,0.2765,0.2795,0.2935,0.2855,0.2975,0.2815,
0.3045,0.3185,0.3105,0.3225,0.3065,0.3155,0.3215,0.3015,
0.3475,0.3315,0.3405,0.3465,0.3265,0.3295,0.3435,0.3355,
0.3655,0.3715,0.3515,0.3545,0.3685,0.3605,0.3725,0.3565,
0.3795,0.3935,0.3855,0.3975,0.3815,0.3905,0.3965,0.3765,
0.4225,0.4065,0.4155,0.4215,0.4015,0.4045,0.4185,0.4105,
0.4405,0.4465,0.4265,0.4295,0.4435,0.4355,0.4475,0.4315,
0.4545,0.4685,0.4605,0.4725,0.4565,0.4655,0.4715,0.4515,
0.4975,0.4815,0.4905,0.4965,0.4765,0.4795,0.4935,0.4855,
0.5155,0.5215,0.5015,0.5045,0.5185,0.5105,0.5225,0.5065,
0.5295,0.5435,0.5355,0.5475,0.5315,0.5405,0.5465,0.5265,
0.5725,0.5565,0.5655,0.5715,0.5515,0.5545,0.5685,0.5605,
0.5905,0.5965,0.5765,0.5795,0.5935,0.5855,0.5975,0.5815,
0.6045,0.6185,0.6105,0.6225,0.6065,0.6155,0.6215,0.6015,
0.6475,0.6315,0.6405,0.6465,0.6265,0.6295,0.6435,0.6355,
0.6655,0.6715,0.6515,0.6545,0.6685,0.6605,0.6725,0.6565,
0.6795,0.6935,0.6855,0.6975,0.6815,0.6905,0.6965,0.6765,
0.7225,0.7065,0.7155,0.7215,0.7015,0.7045,0.7185,0.7105,
0.7405,0.7465,0.7265,0.7295,0.7435,0.7355,0.7475,0.7315,
0.7545,0.7685,0.7605,0.7725,0.7565,0.7655,0.7715,0.7515,
0.7975,0.7815,0.7905,0.7965,0.7765,0.7795,0.7935,0.7855,
0.8155,0.8215,0.8015,0.8045,0.8185,0.8105,0.8225,0.8065,
0.8295,0.8435,0.8355,0.8475,0.8315,0.8405,0.8465,0.8265,
0.8725,0.8565,0.8655,0.8715,0.8515,0.8545,0.8685,0.8605,
0.8905,0.8965,0.8765,0.8795,0.8935,0.8855,0.8975,0.8815,
0.9045,0.9185,0.9105,0.9225,0.9065,0.9155,0.9215,0.9015,
0.9475,0.9315,0.9405,0.9465,0.9265,0.9295,0.9435,0.9355,
0.9655,0.9715,0.9515,0.9545,0.9685,0.9605,0.9725,0.9565,
0.9795,0.9935,0.9855,0.9975,0.9815,0.9905,0.9965,0.9765,
0.010,0.005,0.020,0.003,0.133,0.090,
]

# ---------------- tails ----------------
fusedlasso_tail_param = [
0.0011,0.0022,0.0028,0.0039,0.0050,0.0056,0.0022,0.0034,0.0045,0.0084,0.0095,0.0101,
0.0112,0.0123,0.0135,0.0140,0.0146,0.0163,0.0168,0.0185,0.0191,0.0207,0.0219,0.0213,
0.0095,0.0106,0.0118,0.0129,0.0123,0.0140,0.0151,0.0163,0.0202,0.0213,0.0224,0.0241,
0.0269,0.0280,0.0325,0.0359,0.0364,0.0392,0.0370,0.0314,0.0303,0.0319,0.0269,0.0263,
0.0224,0.0185,0.0140,0.0095,0.0084,0.0067,0.0448,0.0454,0.0460,0.0460,0.0504,0.0504,
0.0538,0.0420,0.0471,0.0460,0.0572,0.0566,0.0577,0.0583,0.0549,0.0566,0.0572,0.0594,
0.0600,0.0605,0.0650,0.0639,0.0650,0.0656,0.0661,0.0667,0.0628,0.0656,0.0673,0.0622,
0.0717,0.0723,0.0729,0.0740,0.0757,0.0762,0.0734,0.0734,0.0751,0.0785,0.0779,0.0774,
0.0706,0.0802,0.0807,0.0818,0.0818,0.0830,0.0858,0.0869,0.0883,0.0953,0.0964,0.0970,
0.0987,0.0942,0.0437,0.0462,0.0527,0.0594,0.0581,0.0670,0.0757,0.0777,0.0734,0.0746,
0.0538,0.0586,0.0721,0.0787,0.0832,0.0880,0.0951,0.0947,0.0687,0.0740,0.0880,0.0923,
0.0944,0.0936,0.0049,0.0152,
]
fusedlasso_tail_perm = [
0.0020,0.0035,0.0043,0.0020,0.0027,0.0024,0.0030,0.0024,0.0040,0.0020,0.0030,0.0024,
0.0035,0.0024,0.0030,0.0043,0.0024,0.0030,0.0043,0.0024,0.0035,0.0030,0.0020,0.0043,
0.0058,0.0073,0.0081,0.0073,0.0058,0.0058,0.0065,0.0058,0.0073,0.0081,0.0073,0.0081,
0.0040,0.0040,0.0040,0.0040,0.0024,0.0020,0.0061,0.0061,0.0101,0.0119,0.0119,0.0157,
0.0157,0.0157,0.0096,0.0096,0.0081,0.0065,0.0040,0.0024,0.0058,0.0081,0.0040,0.0081,
0.0081,0.0137,0.0119,0.0119,0.0119,0.0137,0.0157,0.0177,0.0177,0.0040,0.0020,0.0020,
0.0061,0.0119,0.0040,0.0177,0.0177,0.0215,0.0101,0.0119,0.0256,0.0256,0.0256,0.0256,
0.0020,0.0081,0.0096,0.0101,0.0062,0.0101,0.0137,0.0177,0.0177,0.0137,0.0157,0.0198,
0.0198,0.0040,0.0137,0.0081,0.0177,0.0020,0.0137,0.0157,0.0101,0.0137,0.0101,0.0062,
0.0157,0.0215,0.0198,0.0238,0.0276,0.0355,0.0393,0.0375,0.0314,0.0295,0.0256,0.0431,
0.0451,0.0510,0.0550,0.0492,0.0471,0.0375,0.0355,0.0649,0.0784,0.0763,0.0822,0.1194,
0.1314,0.1448,0.0530,0.0510,
]
lasso_tail_param = [
0.0078,0.0210,0.0269,0.0332,0.0372,0.0409,0.0464,0.0516,0.0521,0.0527,
0.0533,0.0549,0.0547,0.0512,0.0525,0.0577,0.0596,0.0670,0.0667,0.0709,
0.0729,0.0746,0.0749,0.0774,0.0783,0.0790,0.0779,0.0771,0.0824,0.0830,
0.0835,0.0858,0.0880,0.0902,0.0947,0.0947,0.0959,0.0984,0.0987,0.0709,
]
lasso_tail_perm = [
0.0021,0.0021,0.0021,0.0042,0.0042,0.0062,0.0062,0.0021,0.0033,0.0042,
0.0021,0.0062,0.0081,0.0120,0.0198,0.0159,0.0021,0.0021,0.0042,0.0062,
0.0021,0.0021,0.0081,0.0042,0.0021,0.0021,0.0101,0.0179,0.0159,0.0042,
0.0021,0.0042,0.0062,0.0021,0.0021,0.0042,0.0042,0.0042,0.0081,0.0236,
]
ridge_tail_param = []
ridge_tail_perm = []

GREEN = "#008000"
RED = "#ff0000"
SERIF = "Liberation Serif"
SANS = "Liberation Sans"


def panel(title, perm, param, identity, xmax, ymax, xticks, yticks, fmt,
          size, b_top):
    # upright panel: permutation p-values on x, parametric p-values on y.
    # Square canvas, so its measured size is unchanged once the page turns it.
    p = figure(width=size, height=size,
               x_range=Range1d(0, xmax), y_range=Range1d(0, ymax),
               title=title, title_location="above",
               output_backend="svg", toolbar_location=None, tools="",
               min_border_left=82, min_border_right=size - 82 - 428,
               min_border_top=b_top, min_border_bottom=size - b_top - 297)
    p.background_fill_color = "white"
    p.border_fill_color = "white"
    p.outline_line_color = "black"
    p.outline_line_width = 1
    p.grid.visible = False

    xa = p.xaxis[0]
    ya = p.yaxis[0]
    for ax, ticks in ((xa, xticks), (ya, yticks)):
        ax.ticker = FixedTicker(ticks=ticks)
        ax.formatter = PrintfTickFormatter(format=fmt)
        ax.major_tick_in = 5
        ax.major_tick_out = 0
        ax.minor_tick_line_color = None
        ax.axis_line_color = "black"
        ax.major_tick_line_color = "black"
        ax.major_label_text_font = SERIF
        ax.major_label_text_font_size = "22px"
        ax.major_label_text_color = "black"
        ax.axis_label_text_font = SANS
        ax.axis_label_text_font_size = "23px"
        ax.axis_label_text_font_style = "normal"
        ax.axis_label_text_color = "black"
    xa.axis_label = "permutation p-values"
    xa.major_label_standoff = 2
    xa.axis_label_standoff = 2
    ya.axis_label = "parametric p-values"
    ya.major_label_standoff = 4
    ya.axis_label_standoff = 7

    # inward ticks on the opposite edges of the frame
    p.scatter(x=xticks, y=[ymax] * len(xticks), marker="dash", size=10,
              angle=math.pi / 2, line_color="black", line_width=1)
    p.scatter(x=[xmax] * len(yticks), y=yticks, marker="dash", size=10,
              line_color="black", line_width=1)

    p.title.align = "center"
    p.title.text_font = SANS
    p.title.text_font_size = "27px"
    p.title.text_font_style = "normal"
    p.title.text_color = "black"
    p.title.standoff = 0

    if len(param):
        p.scatter(x=perm, y=param, size=6, fill_color=GREEN,
                  line_color=GREEN, line_width=0.6)
    p.line(x=identity, y=identity, line_color=RED, line_width=5)
    return p


fulls = [
    ("fusedlasso", fusedlasso_perm + fusedlasso_perm_b, fusedlasso_param + fusedlasso_param_b),
    ("lasso", lasso_perm + lasso_perm_b, lasso_param + lasso_param_b),
    ("ridge", ridge_perm, ridge_param),
]
tails = [
    ("fusedlasso pvalues at tail", fusedlasso_tail_perm, fusedlasso_tail_param),
    ("lasso pvalues at tail", lasso_tail_perm, lasso_tail_param),
    ("ridge pvalues at tail", ridge_tail_perm, ridge_tail_param),
]

# square cells that overlap: track edges at 0, 390, 536, 544, 926, 934 (rows)
sizes = [544, 544, 536]
top_span = [3, 3, 2]
bottom_span = [4, 4, 3]
children = []
for i, f in enumerate(fulls):
    children.append((panel(f[0], f[1], f[2], identity_full, 1.0, 1.0, full_ticks,
                           full_ticks, "%.1f", sizes[i], 33), 0, i, top_span[i], 1))
for i, t in enumerate(tails):
    children.append((panel(t[0], t[1], t[2], identity_tail, 0.2, 0.1, tail_perm_ticks,
                           tail_param_ticks, "%.2f", sizes[i], 45), 1, i, bottom_span[i], 1))

layout = GridBox(children=children,
                 rows=["390px", "146px", "8px", "382px", "8px"],
                 cols=["544px", "544px", "536px"],
                 styles={"transform-origin": "0 0",
                         "transform": "translate(792px, 0px) rotate(90deg)"})
open("out.html", "w").write(file_html(layout, INLINE))
